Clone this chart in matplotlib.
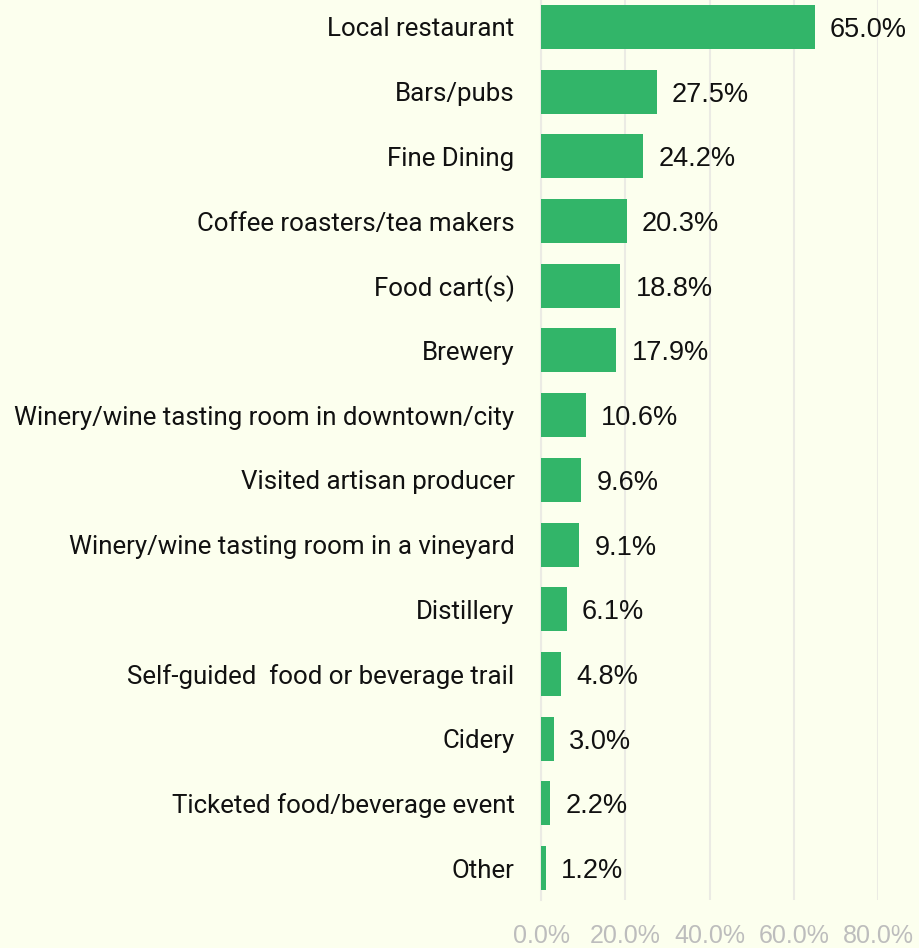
import matplotlib
matplotlib.use('Agg')
import matplotlib.pyplot as plt

# survey categories, top to bottom
categories = [
    "Local restaurant",
    "Bars/pubs",
    "Fine Dining",
    "Coffee roasters/tea makers",
    "Food cart(s)",
    "Brewery",
    "Winery/wine tasting room in downtown/city",
    "Visited artisan producer",
    "Winery/wine tasting room in a vineyard",
    "Distillery",
    "Self-guided  food or beverage trail",
    "Cidery",
    "Ticketed food/beverage event",
    "Other",
]
shares = [65.0, 27.5, 24.2, 20.3, 18.8, 17.9, 10.6, 9.6, 9.1, 6.1, 4.8, 3.0, 2.2, 1.2]
x_ticks = [0, 20, 40, 60, 80]

bg_color   = '#fcffee'
bar_color  = '#32b569'
grid_color = '#ebebe4'
tick_color = '#bdbdbd'
num_font   = ['Liberation Sans', 'DejaVu Sans']

plt.rcParams['font.family'] = ['Roboto', 'DejaVu Sans']

W, H = 919, 948
fig = plt.figure(figsize=(W / 100, H / 100), dpi=100, facecolor=bg_color)

# axes in pixel terms: x from 541 to 878 (0..80%), y bottom at 901
x0, x1 = 541, 878
n = len(categories)
step = (868 - 27) / (n - 1)
top_px = 27 - step / 2
bot_px = 868 + step / 2
ax = fig.add_axes([x0 / W, 1 - bot_px / H, (x1 - x0) / W, (bot_px - top_px) / H])
ax.set_facecolor(bg_color)

ypos = list(range(n))
ax.barh(ypos, shares, height=0.68, color=bar_color, zorder=3)
ax.set_ylim(n - 0.5, -0.5)
ax.set_xlim(0, 80)

ax.set_yticks(ypos)
ax.set_yticklabels(categories, fontsize=18.6, color='#111111')
ax.tick_params(axis='y', length=0, pad=19)

ax.set_xticks(x_ticks)
ax.set_xticklabels([f"{t:.1f}%" for t in x_ticks], fontsize=18, color=tick_color,
                   family=num_font)
ax.tick_params(axis='x', length=0, pad=17)

ax.grid(axis='x', color=grid_color, linewidth=1.5, zorder=0)
for side in ['top', 'right', 'bottom']:
    ax.spines[side].set_visible(False)
ax.spines['left'].set_color(grid_color)
ax.spines['left'].set_linewidth(1.5)

for y, v in zip(ypos, shares):
    ax.annotate(f"{v:.1f}%", (v, y), xytext=(11, 0), textcoords='offset points',
                va='center_baseline', ha='left', fontsize=19.5, color='#111111',
                family=num_font, annotation_clip=False, zorder=4)

fig.savefig('out.png', dpi=100, facecolor=bg_color)
